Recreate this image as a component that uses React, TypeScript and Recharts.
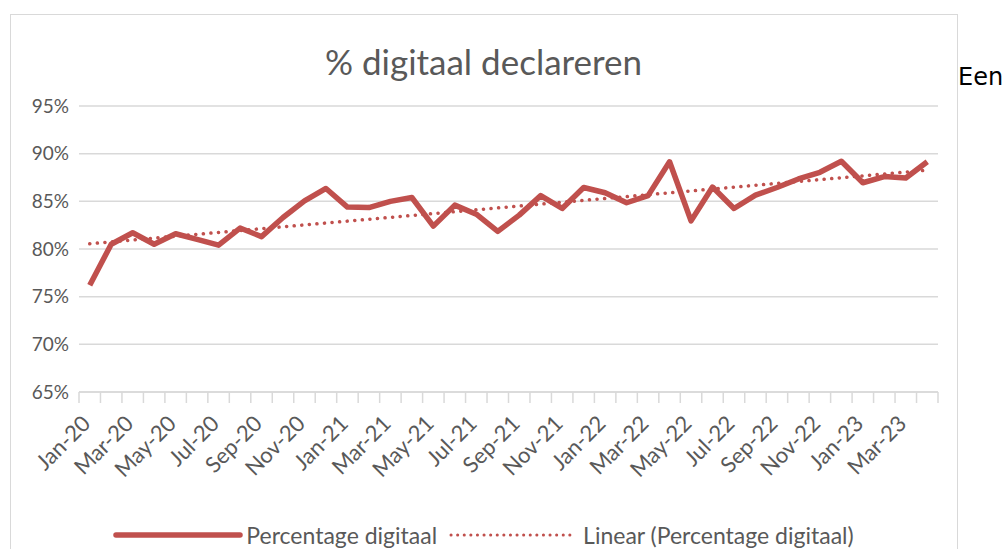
import React from 'react';
import { LineChart, Line, XAxis, YAxis, CartesianGrid } from 'recharts';

const months = [
    'Jan-20', 'Feb-20', 'Mar-20', 'Apr-20', 'May-20', 'Jun-20', 'Jul-20', 'Aug-20', 'Sep-20', 'Oct-20', 'Nov-20', 'Dec-20',
    'Jan-21', 'Feb-21', 'Mar-21', 'Apr-21', 'May-21', 'Jun-21', 'Jul-21', 'Aug-21', 'Sep-21', 'Oct-21', 'Nov-21', 'Dec-21',
    'Jan-22', 'Feb-22', 'Mar-22', 'Apr-22', 'May-22', 'Jun-22', 'Jul-22', 'Aug-22', 'Sep-22', 'Oct-22', 'Nov-22', 'Dec-22',
    'Jan-23', 'Feb-23', 'Mar-23', 'Apr-23',
];

// % digitaal
const percentageDigitaal = [
    76.2, 80.5, 81.7, 80.5, 81.6, 81.0, 80.4, 82.2, 81.3, 83.3, 85.05, 86.35,
    84.4, 84.35, 85.0, 85.4, 82.4, 84.6, 83.65, 81.85, 83.55, 85.6, 84.25, 86.45,
    85.9, 84.85, 85.6, 89.15, 82.95, 86.5, 84.25, 85.65, 86.45, 87.35, 88.05, 89.2,
    86.95, 87.6, 87.45, 89.15,
];

// linear trend, value at first and last month
const trendStart = 80.55;
const trendEnd = 88.27;

const yTicks = [65, 70, 75, 80, 85, 90, 95];

const RED = '#C0504D';
const GREY = '#595959';
const GRID = '#d9d9d9';
const FONT = 'Lato, "Open Sans", sans-serif';
const HALF_BAND = 10.74;

const data = months.map((m, i) => ({
    month: m,
    value: percentageDigitaal[i],
    trend: i === 0 ? trendStart : i === months.length - 1 ? trendEnd : null,
}));

// boundary tick marks for every month, label on every other month
function MonthTick({ x, y, payload }: any) {
    const idx = payload.index;
    const last = idx === months.length - 1;
    const tx = x + 2;
    const ty = y + 33;
    return (
        <g>
            <line x1={x - HALF_BAND} y1={y} x2={x - HALF_BAND} y2={y + 11} stroke={GRID} strokeWidth={1.5} />
            {last && <line x1={x + HALF_BAND} y1={y} x2={x + HALF_BAND} y2={y + 11} stroke={GRID} strokeWidth={1.5} />}
            {idx % 2 === 0 && (
                <text
                    x={tx}
                    y={ty}
                    transform={`rotate(-45, ${tx}, ${ty})`}
                    textAnchor="end"
                    fill={GREY}
                    fontSize={22}
                    fontFamily={FONT}
                >
                    {payload.value}
                </text>
            )}
        </g>
    );
}

export default function App() {
    return (
        <div style={{ position: 'fixed', left: 0, top: 0, width: 1005, height: 549, overflow: 'hidden', background: '#fff' }}>
            <div
                style={{
                    position: 'absolute',
                    left: 10,
                    top: 14,
                    width: 946,
                    height: 560,
                    border: `1.5px solid ${GRID}`,
                }}
            />
            <div
                style={{
                    position: 'absolute',
                    left: 10,
                    width: 947,
                    top: 40,
                    textAlign: 'center',
                    fontFamily: FONT,
                    fontSize: 35,
                    color: GREY,
                }}
            >
                % digitaal declareren
            </div>
            <div
                style={{
                    position: 'absolute',
                    left: 958,
                    top: 63,
                    fontFamily: '"DejaVu Sans", sans-serif',
                    fontSize: 24,
                    color: '#000',
                }}
            >
                Een
            </div>
            <div style={{ position: 'absolute', left: 10, top: 14 }}>
                <LineChart width={947} height={535} data={data} margin={{ top: 92, right: 19, left: 0, bottom: 0 }}>
                    <CartesianGrid vertical={false} stroke={GRID} strokeWidth={1.5} />
                    <XAxis
                        dataKey="month"
                        height={157}
                        interval={0}
                        padding={{ left: HALF_BAND, right: HALF_BAND }}
                        axisLine={{ stroke: GRID, strokeWidth: 1.5 }}
                        tickLine={false}
                        tickSize={0}
                        tickMargin={0}
                        tick={<MonthTick />}
                    />
                    <YAxis
                        width={69}
                        domain={[65, 95]}
                        ticks={yTicks}
                        interval={0}
                        axisLine={false}
                        tickLine={false}
                        tickFormatter={(v: number) => `${v}%`}
                        tick={{ fill: GREY, fontSize: 19, fontFamily: FONT }}
                        tickMargin={4}
                    />
                    <Line
                        dataKey="trend"
                        stroke={RED}
                        strokeWidth={3.5}
                        strokeDasharray="0.1 7.5"
                        strokeLinecap="round"
                        dot={false}
                        connectNulls
                        isAnimationActive={false}
                    />
                    <Line
                        dataKey="value"
                        stroke={RED}
                        strokeWidth={5.5}
                        strokeLinejoin="round"
                        dot={false}
                        isAnimationActive={false}
                    />
                </LineChart>
            </div>
            <div
                style={{
                    position: 'absolute',
                    left: 10,
                    width: 947,
                    top: 521,
                    display: 'flex',
                    justifyContent: 'center',
                    alignItems: 'center',
                    fontFamily: FONT,
                    fontSize: 23,
                    color: GREY,
                }}
            >
                <svg width={130} height={10} style={{ marginRight: 3 }}>
                    <line x1={3} y1={5} x2={127} y2={5} stroke={RED} strokeWidth={5.5} strokeLinecap="round" />
                </svg>
                <span>Percentage digitaal</span>
                <svg width={126} height={10} style={{ marginLeft: 12, marginRight: 8 }}>
                    <line x1={2} y1={5} x2={124} y2={5} stroke={RED} strokeWidth={3} strokeDasharray="0.1 6.5" strokeLinecap="round" />
                </svg>
                <span>Linear (Percentage digitaal)</span>
            </div>
        </div>
    );
}
